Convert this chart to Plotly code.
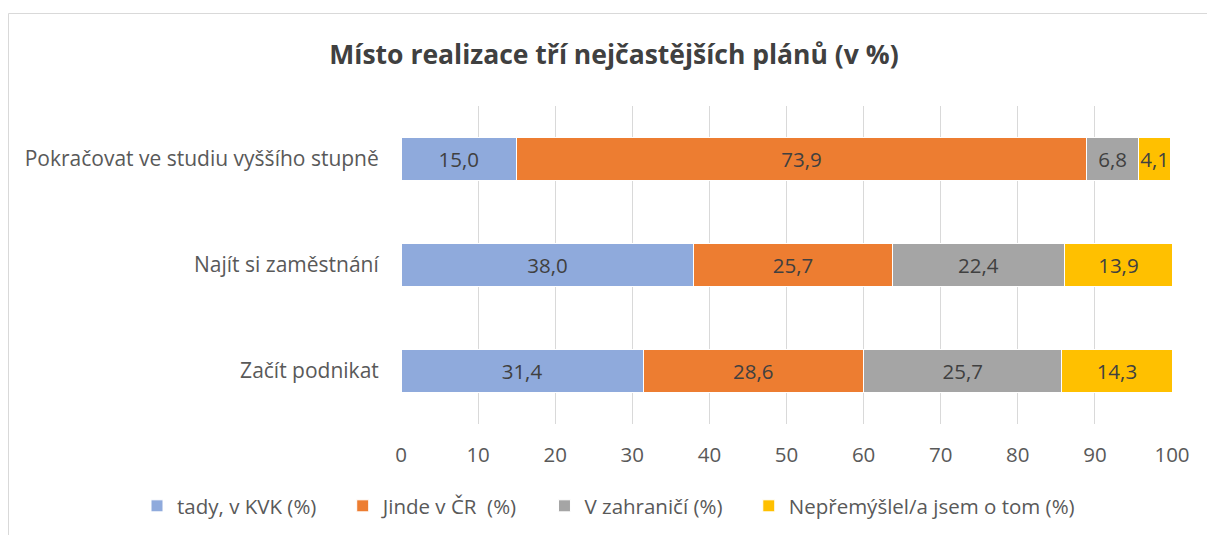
import plotly.graph_objects as go

categories = ["Začít podnikat", "Najít si zaměstnání", "Pokračovat ve studiu vyššího stupně"]
series_names = ["tady, v KVK (%)", "Jinde v ČR\u00a0 (%)", "V zahraničí (%)", "Nepřemýšlel/a jsem o tom (%)"]
tady_kvk = [31.4, 38.0, 15.0]
jinde_cr = [28.6, 25.7, 73.9]
zahranici = [25.7, 22.4, 6.8]
nepremyslel = [14.3, 13.9, 4.1]
x_ticks = [0, 10, 20, 30, 40, 50, 60, 70, 80, 90, 100]

colors = ["#8FAADC", "#ED7D31", "#A5A5A5", "#FFC000"]
values = [tady_kvk, jinde_cr, zahranici, nepremyslel]

FONT = "Open Sans"
TXT = "#595959"
PAD = "\u00a0\u00a0\u00a0\u00a0"

fig = go.Figure()
for i, (name, vals, col) in enumerate(zip(series_names, values, colors)):
    fig.add_trace(go.Bar(
        y=categories, x=vals, name=name + (PAD if i < len(series_names) - 1 else ""),
        orientation="h",
        marker=dict(color=col, line=dict(color="white", width=1)),
        texttemplate="%{x:.1f}", textposition="inside", insidetextanchor="middle",
        textangle=0,
        textfont=dict(family=FONT, size=20.5, color="#404040"),
        constraintext="none",
    ))

W, H = 1207, 535
L, R, T, B = 401, 35, 106, 111
pw = W - L - R
ph = H - T - B

def px_to_paper_x(px):
    return (px - L) / pw

def py_to_paper_y(py):
    return (H - B - py) / ph

fig.update_layout(
    width=W, height=H,
    barmode="stack", bargap=0.6,
    separators=", ",
    plot_bgcolor="white", paper_bgcolor="white",
    margin=dict(l=L, r=R, t=T, b=B, autoexpand=False),
    font=dict(family=FONT, color=TXT, size=20.5),
    title=dict(text="<b>Místo realizace tří nejčastějších plánů (v %)</b>",
               x=614 / W, xanchor="center", y=1 - 55 / H, yanchor="middle",
               font=dict(family=FONT, size=26.5, color="#404040")),
    xaxis=dict(range=[0, 100], tickvals=x_ticks, showgrid=True, gridcolor="#D9D9D9",
               gridwidth=1, zeroline=False, showline=False,
               ticks="outside", ticklen=12, tickcolor="rgba(0,0,0,0)",
               tickfont=dict(family=FONT, size=20.5, color=TXT)),
    yaxis=dict(categoryorder="array", categoryarray=categories, showgrid=False,
               showline=False, ticks="outside", ticklen=17, tickcolor="rgba(0,0,0,0)",
               tickfont=dict(family=FONT, size=21, color=TXT)),
    legend=dict(orientation="h", x=px_to_paper_x(137), xanchor="left",
                y=py_to_paper_y(506), yanchor="middle", traceorder="normal",
                font=dict(family=FONT, size=20.5, color=TXT), bgcolor="rgba(0,0,0,0)"),
    shapes=[dict(type="rect", xref="paper", yref="paper",
                 x0=px_to_paper_x(8.5), x1=px_to_paper_x(1400),
                 y0=py_to_paper_y(700), y1=py_to_paper_y(13.5),
                 line=dict(color="#D9D9D9", width=1), fillcolor="rgba(0,0,0,0)",
                 layer="below")],
)

fig.write_html("out.html", config={"displayModeBar": False},
               post_script="document.body.style.margin='0';document.body.style.overflow='hidden';")
